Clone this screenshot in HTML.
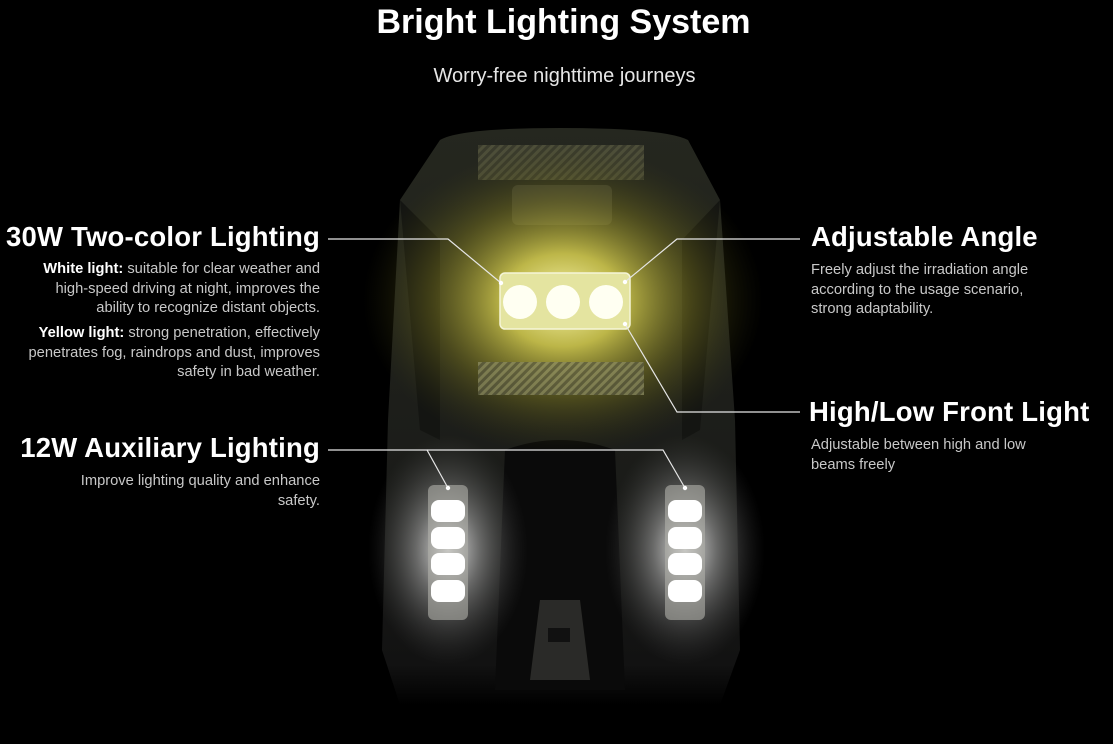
<!DOCTYPE html>
<html><head><meta charset="utf-8"><style>
html,body{margin:0;padding:0;background:#000;}
#c{position:relative;width:1113px;height:744px;overflow:hidden;background:#000;font-family:"Liberation Sans",sans-serif;color:#fff;}
.t{position:absolute;white-space:nowrap;}
.h{font-weight:bold;font-size:27.5px;letter-spacing:0.2px;}
.p{font-size:14.7px;line-height:19.5px;color:#c8c8c8;}
.r{text-align:right;}
.p b{color:#fff;}
</style></head><body><div id="c">
<svg width="1113" height="744" style="position:absolute;left:0;top:0">
<defs>
<radialGradient id="yg" cx="0.5" cy="0.5" r="0.5">
<stop offset="0" stop-color="#fbf8b0" stop-opacity="1"/>
<stop offset="0.3" stop-color="#d8d050" stop-opacity="0.85"/>
<stop offset="0.65" stop-color="#8a8420" stop-opacity="0.4"/>
<stop offset="1" stop-color="#404010" stop-opacity="0"/>
</radialGradient>
<radialGradient id="wg" cx="0.5" cy="0.5" r="0.5">
<stop offset="0" stop-color="#fff" stop-opacity="0.9"/>
<stop offset="0.4" stop-color="#ccc" stop-opacity="0.45"/>
<stop offset="1" stop-color="#555" stop-opacity="0"/>
</radialGradient>
<linearGradient id="bf" x1="0" y1="0" x2="0" y2="1">
<stop offset="0" stop-color="#25271f"/>
<stop offset="0.6" stop-color="#1b1c19"/>
<stop offset="0.93" stop-color="#121212"/>
<stop offset="1" stop-color="#000"/>
</linearGradient>
<pattern id="cf" width="6" height="6" patternUnits="userSpaceOnUse" patternTransform="rotate(45)">
<rect width="6" height="6" fill="#5a5a40"/><rect width="3" height="6" fill="#8a8a60"/>
</pattern>
</defs>
<path d="M440 140 Q460 128 560 128 Q665 128 688 140 L720 200 L735 420 L740 650 L720 705 L400 705 L382 650 L388 420 L400 200 Z" fill="url(#bf)"/>
<path d="M400 200 L420 430 L440 440 L440 240 Z" fill="#141512"/>
<path d="M720 200 L700 430 L682 440 L682 240 Z" fill="#141512"/>
<rect x="478" y="145" width="166" height="35" fill="url(#cf)" opacity="0.4"/>
<rect x="512" y="185" width="100" height="40" rx="6" fill="#3a3b30"/>
<path d="M505 450 Q560 430 615 450 L625 690 L495 690 Z" fill="#0a0a0a"/>
<path d="M540 600 L580 600 L590 680 L530 680 Z" fill="#2a2a28"/>
<rect x="548" y="628" width="22" height="14" fill="#111"/>
<ellipse cx="563" cy="300" rx="200" ry="155" fill="url(#yg)"/>
<rect x="478" y="362" width="166" height="33" fill="url(#cf)" opacity="0.75"/>
<rect x="500" y="273" width="130" height="56" rx="5" fill="#e4e4a0" stroke="#f5f5d8" stroke-width="1.5"/>
<circle cx="520" cy="302" r="17" fill="#fffff2"/>
<circle cx="563" cy="302" r="17" fill="#fffff2"/>
<circle cx="606" cy="302" r="17" fill="#fffff2"/>
<ellipse cx="448" cy="550" rx="80" ry="115" fill="url(#wg)"/>
<ellipse cx="685" cy="550" rx="80" ry="115" fill="url(#wg)"/>
<rect x="428" y="485" width="40" height="135" rx="6" fill="#b0b0aa" opacity="0.6"/>
<rect x="665" y="485" width="40" height="135" rx="6" fill="#b0b0aa" opacity="0.6"/>
<g fill="#fff">
<rect x="431" y="500" width="34" height="22" rx="8"/><rect x="431" y="527" width="34" height="22" rx="8"/><rect x="431" y="553" width="34" height="22" rx="8"/><rect x="431" y="580" width="34" height="22" rx="8"/>
<rect x="668" y="500" width="34" height="22" rx="8"/><rect x="668" y="527" width="34" height="22" rx="8"/><rect x="668" y="553" width="34" height="22" rx="8"/><rect x="668" y="580" width="34" height="22" rx="8"/>
</g>
<g stroke="#e6e6e6" stroke-width="1.2" fill="none">
<polyline points="328,239 448,239 501,283"/>
<polyline points="800,239 677,239 625,282"/>
<polyline points="800,412 677,412 625,324"/>
<polyline points="328,450 427,450 448,488"/>
<polyline points="427,450 663,450 685,488"/>
</g>
<g fill="#fff"><circle cx="501" cy="283" r="2.2"/><circle cx="625" cy="282" r="2.2"/><circle cx="625" cy="324" r="2.2"/><circle cx="448" cy="488" r="2.2"/><circle cx="685" cy="488" r="2.2"/></g>
</svg>
<div class="t" style="left:0;width:1127px;text-align:center;top:3px;font-size:34px;font-weight:bold;">Bright Lighting System</div>
<div class="t" style="left:0;width:1129px;text-align:center;top:65px;font-size:20px;color:#e6e6e6;">Worry-free nighttime journeys</div>
<div class="t h r" style="right:793px;top:221px;">30W Two-color Lighting</div>
<div class="t p r" style="right:793px;top:260px;"><b>White light:</b> suitable for clear weather and<br>high-speed driving at night, improves the<br>ability to recognize distant objects.</div>
<div class="t p r" style="right:793px;top:324px;"><b>Yellow light:</b> strong penetration, effectively<br>penetrates fog, raindrops and dust, improves<br>safety in bad weather.</div>
<div class="t h r" style="right:793px;top:432px;">12W Auxiliary Lighting</div>
<div class="t p r" style="right:793px;top:472px;">Improve lighting quality and enhance<br>safety.</div>
<div class="t h" style="left:811px;top:221px;">Adjustable Angle</div>
<div class="t p" style="left:811px;top:261px;">Freely adjust the irradiation angle<br>according to the usage scenario,<br>strong adaptability.</div>
<div class="t h" style="left:809px;top:396px;">High/Low Front Light</div>
<div class="t p" style="left:811px;top:436px;">Adjustable between high and low<br>beams freely</div>
</div></body></html>
